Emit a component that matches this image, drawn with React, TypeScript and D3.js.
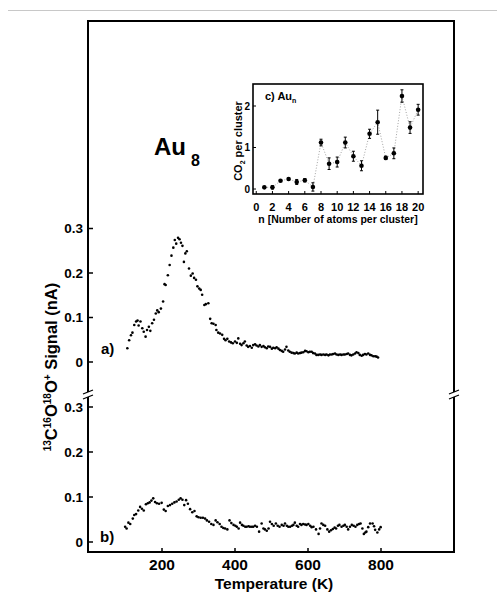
import React from "react";
import * as d3 from "d3";

// panel a) Au8 TPR trace: [temperature K, signal nA]
const SERIES_A: [number, number][] = [
  [105, 0.031], [110, 0.049], [115, 0.06], [119, 0.066], [124, 0.083], [129, 0.091],
  [133, 0.093], [136, 0.082], [141, 0.091], [146, 0.076], [150, 0.068], [155, 0.057],
  [159, 0.072], [164, 0.079], [168, 0.07], [173, 0.087], [178, 0.095], [183, 0.109],
  [187, 0.116], [191, 0.112], [197, 0.12], [203, 0.136], [207, 0.175], [210, 0.173],
  [216, 0.195], [221, 0.218], [226, 0.239], [231, 0.257], [235, 0.274], [239, 0.266],
  [244, 0.279], [248, 0.276], [252, 0.268], [256, 0.261], [260, 0.225], [264, 0.244],
  [268, 0.249], [274, 0.21], [279, 0.194], [284, 0.199], [288, 0.189], [293, 0.185],
  [297, 0.17], [302, 0.165], [306, 0.162], [310, 0.151], [316, 0.128], [320, 0.13],
  [327, 0.132], [332, 0.097], [336, 0.087], [341, 0.086], [347, 0.083], [349, 0.072],
  [354, 0.066], [359, 0.064], [365, 0.061], [370, 0.052], [374, 0.049], [379, 0.052],
  [384, 0.046], [389, 0.044], [394, 0.042], [400, 0.046], [405, 0.043], [409, 0.053],
  [414, 0.041], [418, 0.038], [423, 0.042], [427, 0.046], [432, 0.037], [436, 0.034],
  [441, 0.036], [446, 0.032], [450, 0.038], [455, 0.04], [459, 0.037], [464, 0.035],
  [468, 0.038], [473, 0.034], [478, 0.036], [482, 0.033], [487, 0.031], [491, 0.035],
  [496, 0.034], [501, 0.03], [505, 0.032], [510, 0.031], [514, 0.033], [519, 0.03],
  [523, 0.027], [528, 0.025], [532, 0.023], [537, 0.028], [541, 0.034], [546, 0.026],
  [550, 0.023], [555, 0.021], [560, 0.02], [564, 0.019], [569, 0.021], [573, 0.019],
  [578, 0.02], [582, 0.021], [587, 0.022], [592, 0.025], [596, 0.024], [601, 0.022],
  [605, 0.023], [610, 0.023], [614, 0.02], [619, 0.019], [623, 0.016], [628, 0.016],
  [633, 0.017], [637, 0.016], [642, 0.017], [647, 0.016], [651, 0.017], [656, 0.015],
  [660, 0.017], [665, 0.017], [669, 0.018], [674, 0.019], [678, 0.017], [683, 0.016],
  [688, 0.017], [692, 0.016], [697, 0.017], [701, 0.017], [706, 0.018], [710, 0.019],
  [715, 0.016], [719, 0.015], [724, 0.017], [729, 0.019], [733, 0.022], [738, 0.02],
  [742, 0.016], [747, 0.014], [751, 0.016], [756, 0.018], [760, 0.017], [765, 0.019],
  [770, 0.016], [774, 0.015], [779, 0.013], [784, 0.013], [788, 0.012], [792, 0.01],
];

// panel b) trace
const SERIES_B: [number, number][] = [
  [99, 0.034], [103, 0.03], [108, 0.043], [113, 0.04], [120, 0.052], [124, 0.06],
  [129, 0.062], [135, 0.07], [140, 0.078], [145, 0.074], [150, 0.07], [156, 0.084],
  [161, 0.086], [166, 0.088], [171, 0.092], [176, 0.097], [181, 0.089], [186, 0.086],
  [192, 0.085], [199, 0.087], [205, 0.072], [210, 0.069], [216, 0.08], [222, 0.082],
  [228, 0.085], [234, 0.088], [240, 0.09], [246, 0.094], [251, 0.097], [256, 0.094],
  [261, 0.082], [266, 0.093], [271, 0.085], [277, 0.073], [283, 0.066], [289, 0.069],
  [295, 0.057], [300, 0.055], [306, 0.054], [312, 0.054], [318, 0.052], [323, 0.048],
  [329, 0.045], [335, 0.04], [341, 0.038], [347, 0.048], [352, 0.044], [358, 0.04],
  [363, 0.034], [368, 0.031], [373, 0.03], [379, 0.028], [385, 0.048], [390, 0.042],
  [396, 0.038], [401, 0.036], [405, 0.034], [410, 0.03], [414, 0.043], [419, 0.038],
  [423, 0.036], [428, 0.034], [432, 0.034], [437, 0.035], [441, 0.034], [446, 0.034],
  [450, 0.034], [455, 0.036], [460, 0.034], [466, 0.023], [473, 0.041], [478, 0.03],
  [482, 0.028], [487, 0.025], [492, 0.03], [496, 0.045], [501, 0.04], [506, 0.036],
  [512, 0.041], [517, 0.036], [522, 0.034], [528, 0.038], [533, 0.036], [537, 0.041],
  [542, 0.036], [546, 0.034], [551, 0.034], [556, 0.036], [560, 0.038], [564, 0.043],
  [569, 0.036], [573, 0.034], [578, 0.04], [582, 0.038], [587, 0.04], [592, 0.039],
  [596, 0.038], [601, 0.04], [606, 0.036], [610, 0.033], [615, 0.034], [622, 0.028],
  [629, 0.018], [633, 0.03], [637, 0.041], [642, 0.038], [647, 0.036], [653, 0.028],
  [658, 0.023], [663, 0.026], [668, 0.029], [673, 0.032], [677, 0.03], [682, 0.036],
  [686, 0.038], [692, 0.034], [697, 0.036], [701, 0.038], [706, 0.034], [710, 0.028],
  [715, 0.034], [720, 0.038], [725, 0.036], [730, 0.034], [735, 0.038], [740, 0.04],
  [744, 0.041], [749, 0.03], [753, 0.018], [757, 0.021], [760, 0.023], [765, 0.033],
  [770, 0.041], [777, 0.041], [781, 0.035], [784, 0.027], [790, 0.021], [795, 0.028],
  [799, 0.033],
];

// inset c) CO2 per cluster vs cluster size
const CLUSTER_N = [1, 2, 3, 4, 5, 6, 7, 8, 9, 10, 11, 12, 13, 14, 15, 16, 17, 18, 19, 20];
const CO2_PER_CLUSTER = [0.04, 0.04, 0.2, 0.24, 0.17, 0.21, 0.05, 1.12, 0.61, 0.65, 1.12, 0.79, 0.56, 1.33, 1.61, 0.75, 0.86, 2.24, 1.48, 1.91];
const CO2_ERR = [0.02, 0.04, 0.02, 0.02, 0.06, 0.04, 0.1, 0.08, 0.14, 0.12, 0.13, 0.12, 0.12, 0.11, 0.29, 0.04, 0.13, 0.15, 0.14, 0.13];

const X_TICKS = [200, 400, 600, 800];
const Y_TICKS = [0, 0.1, 0.2, 0.3];
const INSET_X_TICKS = [0, 2, 4, 6, 8, 10, 12, 14, 16, 18, 20];
const INSET_Y_TICKS = [0, 1, 2];

const FONT = "'Liberation Sans', Arial, Helvetica, sans-serif";

const App = () => {
  const x = d3.scaleLinear().domain([0, 1000]).range([89, 454]);
  const ya = d3.scaleLinear().domain([0, 0.3]).range([362, 228.5]);
  const yb = d3.scaleLinear().domain([0, 0.3]).range([542, 407]);
  const ix = d3.scaleLinear().domain([-0.4, 20.6]).range([253, 423]);
  const iy = d3.scaleLinear().domain([-0.12, 2.53]).range([194, 84]);

  const left = 88, right = 454, top = 21, bottom = 552;
  const breakY = 395;

  const insetLine = d3
    .line<number>()
    .x((_, i) => ix(CLUSTER_N[i]))
    .y((d) => iy(d));

  const breakMark = (cx: number) => (
    <g>
      <rect x={cx - 5} y={breakY - 3} width={10} height={5} fill="#fff" />
      <line x1={cx - 5} y1={breakY - 1} x2={cx + 5} y2={breakY - 5} stroke="#000" strokeWidth={1.2} />
      <line x1={cx - 5} y1={breakY + 4} x2={cx + 5} y2={breakY} stroke="#000" strokeWidth={1.2} />
    </g>
  );

  return (
    <svg
      width={497}
      height={596}
      style={{ position: "absolute", left: 0, top: 0 }}
      fontFamily={FONT}
      fontWeight="bold"
    >
      <rect width={497} height={596} fill="#fff" />
      <line x1={8} x2={497} y1={10.5} y2={10.5} stroke="#c8c8c8" strokeWidth={1} />

      {/* main frame */}
      <rect x={left} y={top} width={right - left} height={bottom - top} fill="none" stroke="#000" strokeWidth={2} />
      {breakMark(left)}
      {breakMark(right)}

      {/* y ticks panel a and b */}
      {Y_TICKS.map((t) => (
        <g key={"a" + t}>
          <line x1={left} x2={left + 5} y1={ya(t)} y2={ya(t)} stroke="#000" strokeWidth={1.5} />
          <text x={83} y={ya(t)} dy="0.36em" textAnchor="end" fontSize={13.5}>
            {t === 0 ? "0" : t.toFixed(1)}
          </text>
        </g>
      ))}
      {Y_TICKS.map((t) => (
        <g key={"b" + t}>
          <line x1={left} x2={left + 5} y1={yb(t)} y2={yb(t)} stroke="#000" strokeWidth={1.5} />
          <text x={83} y={yb(t)} dy="0.36em" textAnchor="end" fontSize={13.5}>
            {t === 0 ? "0" : t.toFixed(1)}
          </text>
        </g>
      ))}

      {/* x ticks */}
      {X_TICKS.map((t) => (
        <g key={t}>
          <line x1={x(t)} x2={x(t)} y1={bottom} y2={bottom - 4} stroke="#000" strokeWidth={1.5} />
          <text x={x(t)} y={570} textAnchor="middle" fontSize={15.5}>
            {t}
          </text>
        </g>
      ))}
      <text x={274} y={589} textAnchor="middle" fontSize={15.5}>
        Temperature (K)
      </text>

      {/* y axis title */}
      <text transform={`translate(57, 367) rotate(-90)`} textAnchor="middle" fontSize={16.5}>
        <tspan fontSize={10} dy={-6}>13</tspan>
        <tspan dy={6}>C</tspan>
        <tspan fontSize={10} dy={-6}>16</tspan>
        <tspan dy={6}>O</tspan>
        <tspan fontSize={10} dy={-6}>18</tspan>
        <tspan dy={6}>O</tspan>
        <tspan fontSize={10} dy={-6}>+</tspan>
        <tspan dy={6}> Signal (nA)</tspan>
      </text>

      {/* panel labels */}
      <text x={101} y={354} fontSize={15}>a)</text>
      <text x={100} y={542} fontSize={15}>b)</text>
      <text x={154} y={155} fontSize={24}>Au</text>
      <text x={191} y={166} fontSize={16}>8</text>

      {/* data */}
      {SERIES_A.map(([t, v], i) => (
        <circle key={"pa" + i} cx={x(t)} cy={ya(v)} r={1.3} fill="#000" />
      ))}
      {SERIES_B.map(([t, v], i) => (
        <circle key={"pb" + i} cx={x(t)} cy={yb(v)} r={1.3} fill="#000" />
      ))}

      {/* inset */}
      <g>
        <rect x={253} y={84} width={170} height={110} fill="#fff" stroke="#000" strokeWidth={1.6} />
        <path d={insetLine(CO2_PER_CLUSTER) || ""} fill="none" stroke="#999" strokeWidth={0.9} strokeDasharray="1,1.8" />
        {CO2_PER_CLUSTER.map((v, i) => (
          <g key={"c" + i}>
            <line x1={ix(CLUSTER_N[i])} x2={ix(CLUSTER_N[i])} y1={iy(v - CO2_ERR[i])} y2={iy(v + CO2_ERR[i])} stroke="#000" strokeWidth={1} />
            <line x1={ix(CLUSTER_N[i]) - 1.5} x2={ix(CLUSTER_N[i]) + 1.5} y1={iy(v - CO2_ERR[i])} y2={iy(v - CO2_ERR[i])} stroke="#000" strokeWidth={1} />
            <line x1={ix(CLUSTER_N[i]) - 1.5} x2={ix(CLUSTER_N[i]) + 1.5} y1={iy(v + CO2_ERR[i])} y2={iy(v + CO2_ERR[i])} stroke="#000" strokeWidth={1} />
            <circle cx={ix(CLUSTER_N[i])} cy={iy(v)} r={2.3} fill="#000" />
          </g>
        ))}
        {INSET_X_TICKS.map((t) => (
          <g key={"ix" + t}>
            <line x1={ix(t)} x2={ix(t)} y1={194} y2={191} stroke="#000" strokeWidth={1} />
            <text x={ix(t)} y={210.5} textAnchor="middle" fontSize={11}>{t}</text>
          </g>
        ))}
        {INSET_Y_TICKS.map((t) => (
          <g key={"iy" + t}>
            <line x1={253} x2={256} y1={iy(t)} y2={iy(t)} stroke="#000" strokeWidth={1} />
            <text x={250} y={iy(t)} dy="0.36em" textAnchor="end" fontSize={10}>{t}</text>
          </g>
        ))}
        <text x={338} y={223} textAnchor="middle" fontSize={10.5}>
          n [Number of atoms per cluster]
        </text>
        <text transform={`translate(242, 141) rotate(-90)`} textAnchor="middle" fontSize={11}>
          CO<tspan fontSize={7} dy={3}>2</tspan>
          <tspan dy={-3}> per cluster</tspan>
        </text>
        <text x={265} y={100} fontSize={11}>
          c) Au<tspan fontSize={7} dy={3}>n</tspan>
        </text>
      </g>
    </svg>
  );
};

export default App;
